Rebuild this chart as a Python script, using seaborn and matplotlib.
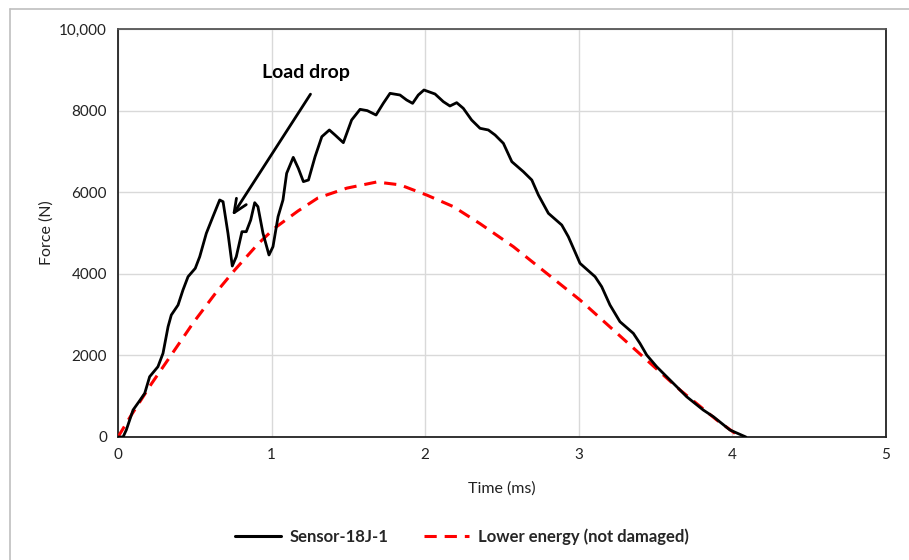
import matplotlib
matplotlib.use("Agg")
import matplotlib.pyplot as plt
from matplotlib.lines import Line2D
import seaborn as sns
import pandas as pd

# Impact force history of the sensor specimen (time in ms, force in N)
sensor_time = [0.0, 0.01, 0.033, 0.054, 0.098, 0.141, 0.174, 0.206, 0.26, 0.293,
               0.326, 0.347, 0.391, 0.423, 0.456, 0.503, 0.532, 0.575, 0.618, 0.662,
               0.684, 0.716, 0.744, 0.77, 0.807, 0.835, 0.864, 0.89, 0.911, 0.944,
               0.983, 1.009, 1.042, 1.074, 1.098, 1.141, 1.174, 1.207, 1.24, 1.283,
               1.327, 1.376, 1.413, 1.467, 1.521, 1.576, 1.623, 1.68, 1.727, 1.771,
               1.836, 1.879, 1.918, 1.955, 1.992, 2.064, 2.118, 2.161, 2.205, 2.248,
               2.302, 2.357, 2.411, 2.455, 2.509, 2.564, 2.639, 2.694, 2.737, 2.802,
               2.889, 2.932, 3.008, 3.106, 3.149, 3.203, 3.268, 3.355, 3.398, 3.442,
               3.507, 3.572, 3.659, 3.702, 3.81, 3.876, 3.984, 4.088]
sensor_force = [0, 0, 0, 172, 662, 890, 1071, 1478, 1723, 2051,
                2704, 2990, 3235, 3603, 3929, 4134, 4419, 4992, 5400, 5809,
                5767, 4992, 4191, 4419, 5032, 5032, 5319, 5743, 5645, 4992,
                4461, 4665, 5400, 5809, 6463, 6854, 6585, 6259, 6299, 6871,
                7361, 7525, 7402, 7214, 7770, 8031, 7999, 7892, 8178, 8423,
                8382, 8260, 8178, 8382, 8505, 8407, 8219, 8113, 8194, 8056,
                7770, 7566, 7525, 7402, 7198, 6748, 6503, 6299, 5931, 5483,
                5196, 4909, 4256, 3929, 3684, 3235, 2826, 2541, 2296, 2010,
                1723, 1478, 1152, 988, 662, 498, 172, 0]

# Reference response at lower impact energy (undamaged)
lower_time = [0.0, 0.087, 0.217, 0.339, 0.49, 0.642, 0.76, 0.911, 1.02, 1.172,
              1.302, 1.49, 1.684, 1.836, 2.01, 2.184, 2.357, 2.574, 2.791, 3.008,
              3.225, 3.442, 3.659, 3.898, 4.05]
lower_force = [0, 540, 1300, 1968, 2800, 3560, 4093, 4730, 5120, 5540,
               5860, 6100, 6250, 6180, 5930, 5645, 5229, 4665, 4012, 3358,
               2623, 1887, 1152, 417, 0]

x_ticks = [0, 1, 2, 3, 4, 5]
y_ticks = [0, 2000, 4000, 6000, 8000, 10000]
y_tick_labels = ["0", "2000", "4000", "6000", "8000", "10,000"]

sensor_label = "Sensor-18J-1"
lower_label = "Lower energy (not damaged)"

sns.set_theme(style="white")
plt.rcParams["font.family"] = ["Lato", "DejaVu Sans"]

fig = plt.figure(figsize=(9.09, 5.6), dpi=100)
W, H = 909, 560
ax = fig.add_axes([118 / W, (H - 437) / H, (886 - 118) / W, (437 - 29) / H])

df_sensor = pd.DataFrame({"time": sensor_time, "force": sensor_force})
df_lower = pd.DataFrame({"time": lower_time, "force": lower_force})

red_dash = (0, (4.0, 2.6))

sns.lineplot(data=df_sensor, x="time", y="force", ax=ax, color="black",
             linewidth=2.0, sort=False, estimator=None, solid_joinstyle="round",
             solid_capstyle="round", zorder=4)
sns.lineplot(data=df_lower, x="time", y="force", ax=ax, color="#ff0000",
             linewidth=2.2, sort=False, estimator=None, zorder=3,
             dashes=False, linestyle=red_dash)

ax.set_xlim(0, 5)
ax.set_ylim(0, 10000)
ax.set_xticks(x_ticks)
ax.set_yticks(y_ticks)
ax.set_yticklabels(y_tick_labels)
ax.tick_params(axis="both", length=0, labelsize=11, colors="#222222", pad=8)
ax.grid(True, color="#d9d9d9", linewidth=1.0)
ax.set_axisbelow(True)
for side in ["left", "bottom", "right", "top"]:
    ax.spines[side].set_visible(True)
    ax.spines[side].set_color("#222222")
    ax.spines[side].set_linewidth(1.3)
ax.spines["top"].set_color("#555555")

ax.set_xlabel("Time (ms)", fontsize=11.5, color="#222222", labelpad=14)
ax.set_ylabel("Force (N)", fontsize=11.5, color="#222222", labelpad=4)

# Arrow pointing at the load drop
ax.annotate("", xy=(0.734, 5370), xytext=(1.263, 8460),
            arrowprops=dict(arrowstyle="->,head_length=0.8,head_width=0.35",
                            color="black", lw=2.0))
ax.text(0.9375, 8930, "Load drop", fontsize=14, fontweight="bold",
        ha="left", va="center", color="black")

# Legend below the plot
handles = [Line2D([], [], color="black", linewidth=2.2),
           Line2D([], [], color="#ff0000", linewidth=2.2, linestyle=red_dash)]
fig.legend(handles, [sensor_label, lower_label], loc="center",
           bbox_to_anchor=(462 / W, 1 - 537 / H), ncol=2, frameon=False,
           prop={"weight": "bold", "size": 12}, handlelength=2.75,
           columnspacing=2.1, handletextpad=0.5)

# Chart frame
fig.add_artist(Line2D([10 / W, 1], [1 - 9 / H, 1 - 9 / H], transform=fig.transFigure,
                      color="#bfbfbf", linewidth=1.2))
fig.add_artist(Line2D([10 / W, 10 / W], [0, 1 - 9 / H], transform=fig.transFigure,
                      color="#bfbfbf", linewidth=1.2))

fig.savefig("out.png", dpi=100, facecolor="white")
